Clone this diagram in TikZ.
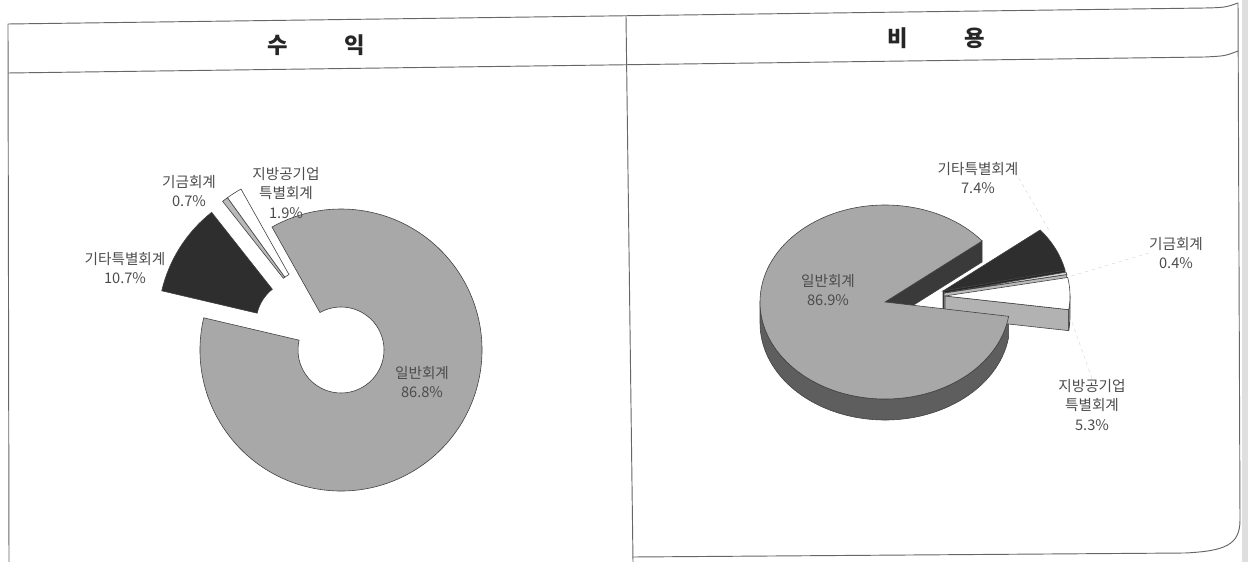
\documentclass[tikz,border=0pt]{standalone}
\usepackage{fontspec}
\setmainfont{Noto Sans CJK KR}
\usetikzlibrary{calc}

\definecolor{ilbangrey}{HTML}{A8A8A8}
\definecolor{gitadark}{HTML}{2E2E2E}
\definecolor{sidegrey}{HTML}{5E5E5E}
\definecolor{wallgrey}{HTML}{3A3A3A}

\tikzset{
  tableline/.style={draw=black!60, line width=0.8pt},
  headtext/.style={font=\fontsize{19}{19}\selectfont\bfseries, text=black!85, inner sep=0pt},
  pielabel/.style={align=center, font=\fontsize{12.5}{17}\selectfont, text=black!70, inner sep=0pt},
  slice/.style={draw=black!75, line width=0.5pt},
  leader/.style={draw=black!25, very thin, dashed},
}

\begin{document}
\begin{tikzpicture}[x=0.03cm, y=-0.03cm]
		\useasboundingbox (0,0) rectangle (1248,562);
		\def\ringpart#1#2{(-#1:141) arc[start angle=-#1, end angle=-#2, radius=141] -- (-#2:43) arc[start angle=-#2, end angle=-#1, radius=43] -- cycle}
		\def\piewedge#1#2{-- ++(-#1:125 and 97) arc[start angle=-#1, end angle=-#2, x radius=125, y radius=97] -- cycle}
		\def\piewall#1#2{(#1) -- ++(-#2:125 and 97) -- ++(0,21) -- ($(#1)+(0,21)$) -- cycle}
		
		% Draw the table
		\fill[gray!25] (1242,0) rectangle (1248,562);
		\draw[tableline] (8,24) -- (1205,8) .. controls (1225,7.5) .. (1238,3);
		\draw[tableline] (8,73) -- (1205,57) .. controls (1225,56) .. (1238,51);
		\draw[tableline] (8,24) -- (9,562);
		\draw[tableline] (626,16) -- (633,562);
		\draw[tableline] (1238,3) -- (1240,520) .. controls (1240,545) and (1225,551) .. (1185,553) -- (633,557);
		\node[headtext] (revHead) at (316,45) {수\hspace{48pt}익};
		\node[headtext] (expHead) at (936,38) {비\hspace{48pt}용};
		
		% Revenue donut
		\begin{scope}[shift={(341,350)}]
			\filldraw[slice, fill=ilbangrey] \ringpart{166.8}{479.3};
		\end{scope}
		\begin{scope}[shift={(299,323)}]
			\filldraw[slice, fill=gitadark] \ringpart{128.3}{166.8};
		\end{scope}
		\begin{scope}[shift={(310,312)}]
			\filldraw[slice, fill=gray!55] \ringpart{125.8}{128.3};
			\filldraw[slice, fill=white] \ringpart{119.3}{125.8};
		\end{scope}
		
		% Label the revenue slices
		\node[pielabel] (revFund) at (189,191) {기금회계\\0.7\%};
		\node[pielabel] (revLocal) at (286,193) {지방공기업\\특별회계\\1.9\%};
		\node[pielabel] (revOther) at (125,268) {기타특별회계\\10.7\%};
		\node[pielabel] (revGeneral) at (422,382) {일반회계\\86.8\%};
		
		% Expense pie
		\coordinate (O) at (885,302);
		\coordinate (Ob) at (943,291);
		\coordinate (Os) at (944,293);
		\coordinate (Ow) at (945,296);
		\filldraw[slice, fill=sidegrey] ($(O)+(-180:125 and 97)$) arc[start angle=-180, end angle=-351.5, x radius=125, y radius=97] -- ++(0,21) arc[start angle=-351.5, end angle=-180, x radius=125, y radius=97] -- cycle;
		\filldraw[slice, fill=wallgrey] \piewall{O}{39};
		
		\filldraw[slice, fill=black!85] \piewall{Ob}{12.4};
		\filldraw[slice, fill=gitadark] (Ob) \piewedge{12.4}{39};
		\filldraw[slice, fill=gray!55] \piewall{Os}{11};
		\filldraw[slice, fill=gray!30] (Os) \piewedge{11}{12.4};
		\filldraw[slice, fill=gray!60] \piewall{Ow}{351.9};
		\filldraw[slice, fill=gray!20] ($(Ow)+(-351.9:125 and 97)$) arc[start angle=-351.9, end angle=-360, x radius=125, y radius=97] -- ++(0,21) arc[start angle=-360, end angle=-351.9, x radius=125, y radius=97] -- cycle;
		\filldraw[slice, fill=white] (Ow) \piewedge{351.9}{371};
		
		\filldraw[slice, fill=ilbangrey] (O) \piewedge{39}{351.5};
		
		% Label the expense slices
		\node[pielabel] (expOther) at (978,178) {기타특별회계\\7.4\%};
		\node[pielabel] (expFund) at (1176,253) {기금회계\\0.4\%};
		\node[pielabel] (expLocal) at (1092,405) {지방공기업\\특별회계\\5.3\%};
		\node[pielabel] (expGeneral) at (828,290) {일반회계\\86.9\%};
		
		\coordinate (tipOther) at (1050,232);
		\coordinate (tipFund) at (1068,277);
		\coordinate (tipLocal) at (1072,322);
		\draw[leader] (expOther.east) -- (tipOther);
		\draw[leader] (expFund.west) -- (tipFund);
		\draw[leader] (expLocal.north) -- (tipLocal);
	\end{tikzpicture}
\end{document}
